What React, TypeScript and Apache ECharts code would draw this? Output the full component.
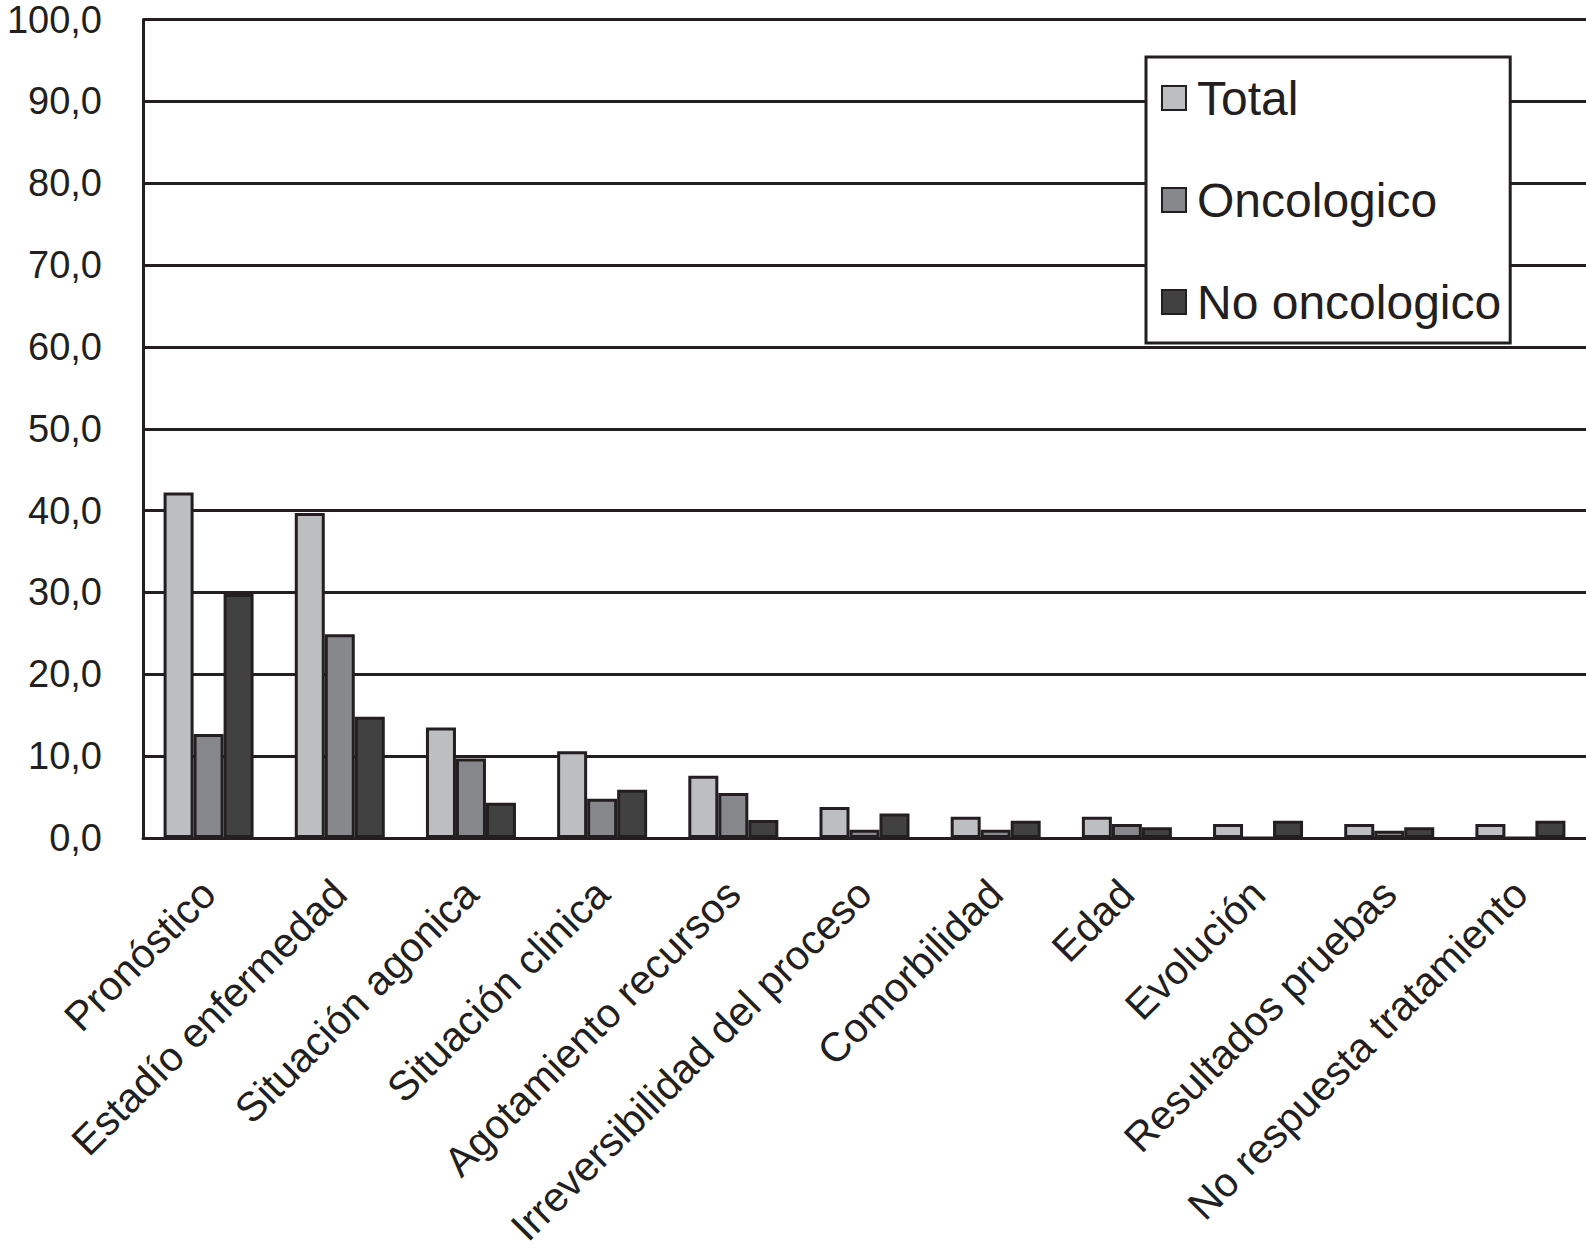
import React, { useEffect, useRef } from "react";
import * as echarts from "echarts";

const categories = [
  "Pronóstico",
  "Estadío enfermedad",
  "Situación agonica",
  "Situación clinica",
  "Agotamiento recursos",
  "Irreversibilidad del proceso",
  "Comorbilidad",
  "Edad",
  "Evolución",
  "Resultados pruebas",
  "No respuesta tratamiento",
];

const totalValues = [42.2, 39.7, 13.5, 10.6, 7.6, 3.8, 2.6, 2.6, 1.7, 1.7, 1.7];
const oncologicoValues = [12.7, 24.9, 9.7, 4.8, 5.5, 1.0, 1.0, 1.7, 0, 0.9, 0];
const noOncologicoValues = [29.8, 14.8, 4.3, 5.9, 2.2, 3.0, 2.1, 1.3, 2.1, 1.3, 2.1];

const seriesNames = ["Total", "Oncologico", "No oncologico"];
const seriesColors = ["#bcbec0", "#87888b", "#414142"];

const yTicks = { min: 0, max: 100, interval: 10 };

const INK = "#231f20";
const FONT = "'Liberation Sans', Arial, Helvetica, sans-serif";

export default function App() {
  const ref = useRef<HTMLDivElement>(null);

  useEffect(() => {
    if (!ref.current) return;
    const chart = echarts.init(ref.current, undefined, { renderer: "svg" });
    const data = [totalValues, oncologicoValues, noOncologicoValues];
    chart.setOption({
      animation: false,
      backgroundColor: "#ffffff",
      textStyle: { fontFamily: FONT, color: INK },
      grid: {
        left: 143,
        top: 19.5,
        right: 0,
        bottom: 414,
        containLabel: false,
        outerBoundsMode: "none",
      },
      legend: {
        orient: "vertical",
        left: 1146,
        top: 57,
        padding: [17, 9, 17, 15],
        backgroundColor: "#ffffff",
        borderColor: INK,
        borderWidth: 3,
        borderRadius: 0,
        icon: "rect",
        itemWidth: 24,
        itemHeight: 24,
        itemGap: 54,
        data: seriesNames,
        formatter: (name: string) => `{t|${name}}`,
        textStyle: {
          fontFamily: FONT,
          fontSize: 48,
          lineHeight: 48,
          color: INK,
          rich: {
            t: {
              fontFamily: FONT,
              fontSize: 48,
              lineHeight: 48,
              color: INK,
              padding: [0, 0, 0, 6],
            },
          },
        },
      },
      xAxis: {
        type: "category",
        data: categories,
        axisLine: { show: true, lineStyle: { color: INK, width: 3 } },
        axisTick: { show: false },
        axisLabel: {
          rotate: 45,
          interval: 0,
          margin: 49,
          fontFamily: FONT,
          fontSize: 41,
          color: INK,
        },
      },
      yAxis: {
        type: "value",
        min: yTicks.min,
        max: yTicks.max,
        interval: yTicks.interval,
        axisLine: { show: true, lineStyle: { color: INK, width: 3 } },
        axisTick: { show: false },
        splitLine: { show: true, lineStyle: { color: INK, width: 3 } },
        axisLabel: {
          margin: 41,
          fontFamily: FONT,
          fontSize: 38,
          color: INK,
          formatter: (v: number) => v.toFixed(1).replace(".", ","),
        },
      },
      series: seriesNames.map((name, i) => ({
        name,
        type: "bar",
        data: data[i],
        barWidth: 30,
        barGap: "0%",
        itemStyle: {
          color: seriesColors[i],
          borderColor: INK,
          borderWidth: 3,
        },
      })),
    });
    return () => chart.dispose();
  }, []);

  return (
    <div
      ref={ref}
      style={{ position: "absolute", left: 0, top: 0, width: 1586, height: 1252 }}
    />
  );
}
